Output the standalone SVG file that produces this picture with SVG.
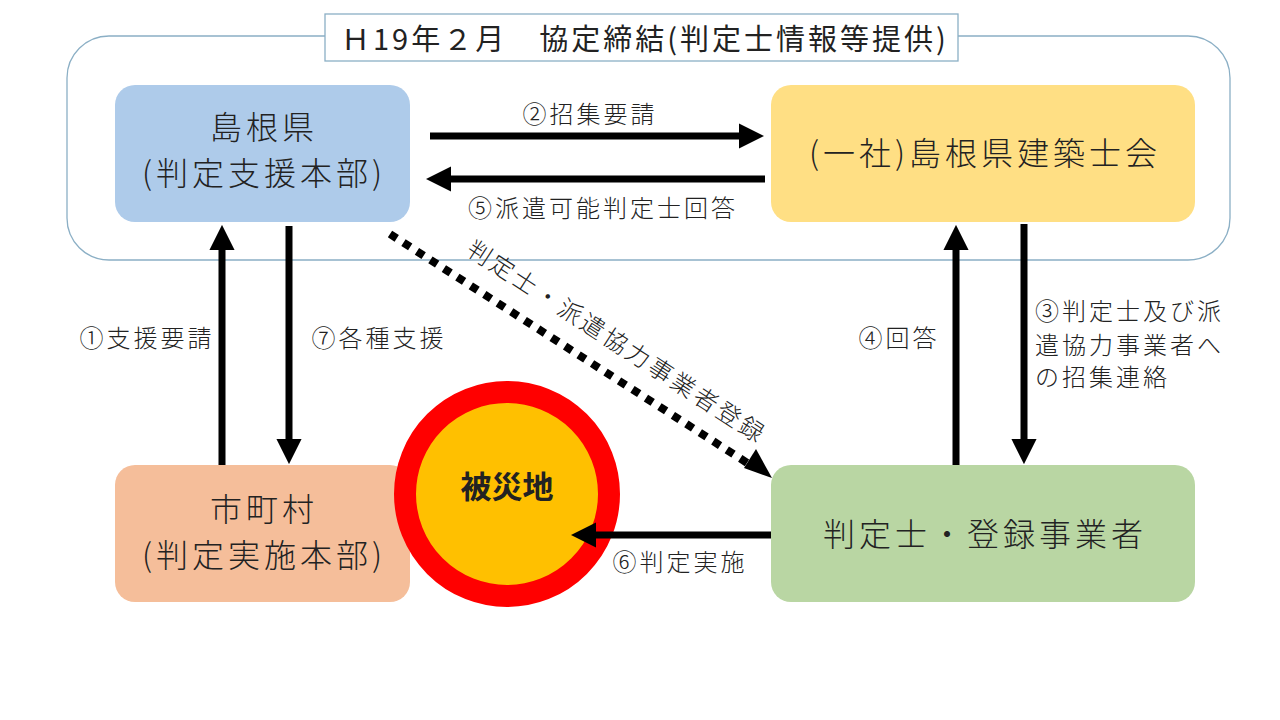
<svg xmlns="http://www.w3.org/2000/svg" width="1280" height="720" viewBox="0 0 1280 720">
<defs>
<style>
text{font-family:"Noto Sans CJK JP","Noto Sans",sans-serif;fill:#222;}
.node{font-size:32px;text-anchor:middle;font-weight:300;letter-spacing:4px}
.lbl{font-size:24px;font-weight:300;letter-spacing:3px}
.ar{stroke:#000;stroke-width:7;fill:none}
</style>
<marker id="ah" viewBox="0 0 10 10" refX="2" refY="5" markerWidth="3.6" markerHeight="3.6" orient="auto" markerUnits="strokeWidth">
<path d="M0,0 L10,5 L0,10 Z" fill="#000"/>
</marker>
</defs>
<rect width="1280" height="720" fill="#fff"/>
<g id="agreement">
<rect x="67" y="36" width="1163" height="224" rx="42" fill="none" stroke="#8BAFC5" stroke-width="1.3"/>
<rect x="325" y="14" width="633" height="47" fill="#fff" stroke="#8BAFC5" stroke-width="1.3"/>
<text x="341" y="50" font-size="29" font-weight="400" letter-spacing="3">Ｈ19年２月　協定締結(判定士情報等提供)</text>
</g>
<g id="shimane">
<rect x="115" y="85" width="295" height="137" rx="20" fill="#AECBEA"/>
<text class="node" x="264" y="139">島根県</text>
<text class="node" x="264" y="185">(判定支援本部)</text>
</g>
<g id="kenchikushikai">
<rect x="771" y="85" width="424" height="137" rx="20" fill="#FFDF84"/>
<text class="node" x="985" y="165">(一社)島根県建築士会</text>
</g>
<g id="shichouson">
<rect x="115" y="465" width="295" height="137" rx="20" fill="#F5BE9A"/>
<text class="node" x="264" y="521">市町村</text>
<text class="node" x="264" y="567">(判定実施本部)</text>
</g>
<g id="hanteishi">
<rect x="771" y="465" width="424" height="137" rx="20" fill="#B9D6A3"/>
<text class="node" x="985" y="546">判定士・登録事業者</text>
</g>
<g id="hisaichi">
<circle cx="507" cy="494" r="102" fill="#FFC000" stroke="#FF0000" stroke-width="22"/>
<text x="507" y="498" font-size="31" font-weight="bold" text-anchor="middle" fill="#111">被災地</text>
</g>
<g id="connectors">
<line class="ar" x1="430" y1="136" x2="744" y2="136" marker-end="url(#ah)"/>
<line class="ar" x1="765" y1="179" x2="446" y2="179" marker-end="url(#ah)"/>
<line class="ar" x1="222" y1="465" x2="222" y2="245" marker-end="url(#ah)"/>
<line class="ar" x1="289" y1="226" x2="289" y2="444" marker-end="url(#ah)"/>
<line class="ar" x1="956" y1="465" x2="956" y2="245" marker-end="url(#ah)"/>
<line class="ar" x1="1024" y1="224" x2="1024" y2="444" marker-end="url(#ah)"/>
<line class="ar" x1="771" y1="535" x2="591" y2="535" marker-end="url(#ah)"/>
<line x1="390" y1="234" x2="752" y2="466" stroke="#000" stroke-width="8" stroke-dasharray="8 8"/>
<path d="M772,478 L744,468 L756,449 Z" fill="#000"/>
<text class="lbl" x="590" y="123" text-anchor="middle">②招集要請</text>
<text class="lbl" x="603" y="217" text-anchor="middle">⑤派遣可能判定士回答</text>
<text class="lbl" x="147" y="347" text-anchor="middle">①支援要請</text>
<text class="lbl" x="379" y="347" text-anchor="middle">⑦各種支援</text>
<text class="lbl" x="899" y="347" text-anchor="middle">④回答</text>
<text class="lbl" x="1035" y="320" letter-spacing="2">③判定士及び派</text>
<text class="lbl" x="1035" y="354" letter-spacing="2">遣協力事業者へ</text>
<text class="lbl" x="1035" y="386" letter-spacing="2">の招集連絡</text>
<text class="lbl" x="680" y="571" text-anchor="middle">⑥判定実施</text>
<text class="lbl" x="0" y="0" text-anchor="middle" letter-spacing="2" transform="translate(612,349) rotate(33)">判定士・派遣協力事業者登録</text>
</g>
</svg>
